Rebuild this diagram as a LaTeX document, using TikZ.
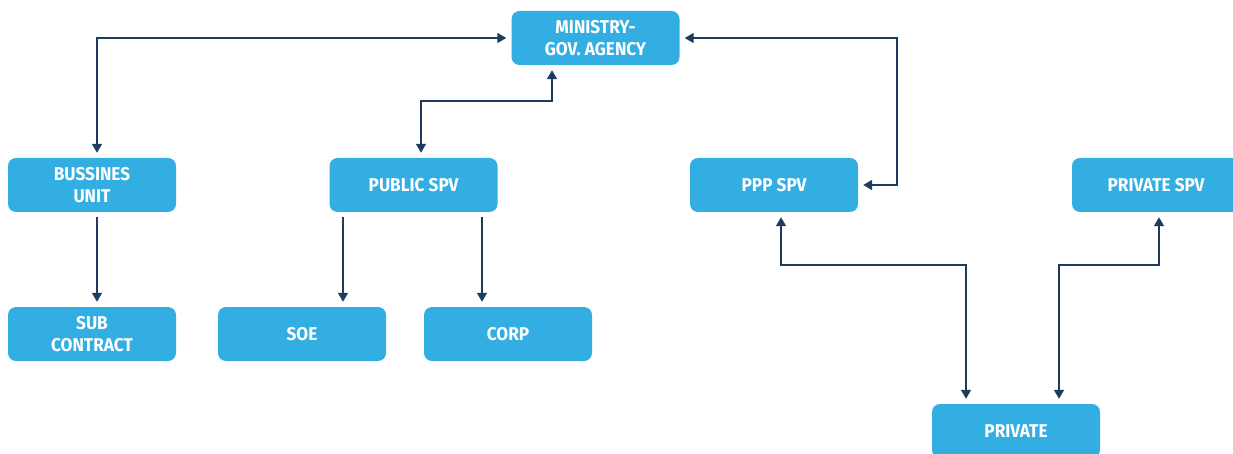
\documentclass[tikz,border=0pt]{standalone}
\usepackage{fontspec}
\newfontfamily\boxfont{Fira Sans}[FakeStretch=0.93]
\usetikzlibrary{arrows.meta}
\definecolor{boxblue}{RGB}{51,174,227}
\definecolor{linknavy}{RGB}{30,60,94}
\tikzset{orgbox/.style={
  shape=rectangle,
  fill=boxblue,
  rounded corners=8pt,
  minimum width=168pt,
  minimum height=54pt,
  text=white,
  align=center,
  font=\boxfont\bfseries\fontsize{18.5}{21.5}\selectfont,
  }
  }
\tikzset{link/.style={
  draw=linknavy,
  line width=1.5pt,
  shorten >=5pt,
  shorten <=5pt,
  >={Triangle[width=10pt,length=9pt]},
  }
  }

\begin{document}
\begin{tikzpicture}[x=1pt,y=-1pt]
  \useasboundingbox (0,0) rectangle (1233,454);
  \node[orgbox] (ministry) at (595.5,38) {MINISTRY-\\GOV. AGENCY};
  \node[orgbox] (bunit)    at (92,185)   {BUSSINES\\UNIT};
  \node[orgbox] (pubspv)   at (413.5,185) {PUBLIC SPV};
  \node[orgbox] (pppspv)   at (774,185)  {PPP SPV};
  \node[orgbox] (privspv)  at (1156,185) {PRIVATE SPV};
  \node[orgbox] (subc)     at (92,334)   {SUB\\CONTRACT};
  \node[orgbox] (soe)      at (302,334)  {SOE};
  \node[orgbox] (corp)     at (508,334)  {CORP};
  \node[orgbox] (private)  at (1016,431) {PRIVATE};

  % links to the ministry
  \draw[link,<->] ([xshift=5pt]bunit.north) |- (ministry.west);
  \draw[link,<->] ([xshift=7.5pt]pubspv.north) -- ++(0,-57) -| ([xshift=-43.5pt]ministry.south);
  \draw[link,<->] (ministry.east) -| ([xshift=39pt]pppspv.east) -- (pppspv.east);

  % links downwards
  \draw[link,->] ([xshift=5pt]bunit.south) coordinate (b1) -- (b1 |- subc.north);
  \draw[link,->] ([xshift=-70.5pt]pubspv.south) coordinate (s1) -- (s1 |- soe.north);
  \draw[link,->] ([xshift=68.5pt]pubspv.south) coordinate (c1) -- (c1 |- corp.north);

  % links to the private party
  \draw[link,<->] ([xshift=7pt]pppspv.south) -- ++(0,53) -| ([xshift=-50pt]private.north);
  \draw[link,<->] ([xshift=3pt]privspv.south) -- ++(0,53) -| ([xshift=43pt]private.north);
\end{tikzpicture}
\end{document}
